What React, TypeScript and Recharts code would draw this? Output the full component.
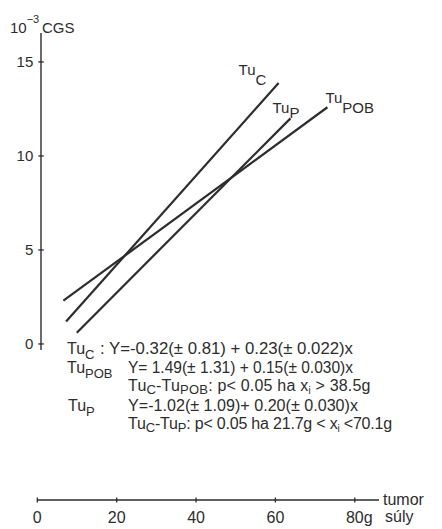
import { LineChart, Line, XAxis, YAxis, ReferenceLine, LabelList } from "recharts"

// regressziós egyenesek végpontjai (tumor súly g, 10^-3 CGS)
const tuC = [
  { x: 7.25, y: 1.19 },
  { x: 60.8, y: 13.88 },
]
const tuP = [
  { x: 9.95, y: 0.6 },
  { x: 63.8, y: 12.0 },
]
const tuPOB = [
  { x: 6.57, y: 2.3 },
  { x: 73.1, y: 12.59 },
]

const xTicks = [0, 20, 40, 60, 80]
const yTicks = [0, 5, 10, 15]

// szöveges blokk a grafikon alatt: [szöveg, alsó index?]
type Seg = [string, boolean?]
const eqNames: Seg[][] = [
  [["Tu"], ["C", true]],
  [["Tu"], ["POB", true]],
  [],
  [["Tu"], ["P", true]],
  [],
]
const eqTexts: Seg[][] = [
  [[": Y=-0.32(± 0.81) + 0.23(± 0.022)x"]],
  [["Y=  1.49(± 1.31) + 0.15(± 0.030)x"]],
  [["Tu"], ["C", true], ["-Tu"], ["POB", true], [": p< 0.05 ha  x"], ["i", true], [" > 38.5g"]],
  [["Y=-1.02(± 1.09)+ 0.20(± 0.030)x"]],
  [["Tu"], ["C", true], ["-Tu"], ["P", true], [": p< 0.05 ha  21.7g < x"], ["i", true], [" <70.1g"]],
]

const ink = "#2d2d2d"
const font = "'Liberation Sans', Arial, sans-serif"

const eqLayout = [
  { nameX: 67, x: 100, y: 354, len: 253, ls: 0 },
  { nameX: 67, x: 128, y: 373, len: 225, ls: 0 },
  { nameX: 67, x: 128, y: 391, len: 0, ls: 0.2 },
  { nameX: 68, x: 128, y: 411, len: 230, ls: 0 },
  { nameX: 67, x: 128, y: 429, len: 0, ls: -0.2 },
]

const renderSegs = (segs: Seg[], subShift: number) => {
  let down = false
  return segs.map(([t, sub], i) => {
    let dy = 0
    if (sub && !down) { dy = subShift; down = true }
    else if (!sub && down) { dy = -subShift; down = false }
    return (
      <tspan key={i} dy={dy} fontSize={sub ? (t === "i" ? 10 : 13) : undefined}>{t}</tspan>
    )
  })
}

const YTick = (props: any) => {
  const { x, y, payload } = props
  return (
    <g>
      <text x={x} y={y} dy={5.5} textAnchor="end" fontSize={15} fontFamily={font} fill={ink}>
        {payload.value}
      </text>
      <line x1={x + 5} x2={x + 10.5} y1={y} y2={y} stroke={ink} strokeWidth={1.3} />
    </g>
  )
}

const XTick = (props: any) => {
  const { x, y, payload } = props
  return (
    <g>
      <line x1={x} x2={x} y1={y - 2.5} y2={y + 2.5} stroke={ink} strokeWidth={1.3} />
      <text x={x} y={y} dy={23} textAnchor="middle" fontSize={16} fontFamily={font} fill={ink}>
        {payload.value}
      </text>
      {payload.value === 80 && (
        <text x={x + 9} y={y} dy={23} fontSize={16} fontFamily={font} fill={ink}>g</text>
      )}
    </g>
  )
}

const seriesLabel = (main: string, sub: string, dx: number, dy: number, subDy: number) => (p: any) => {
  if (p.index !== 1) return null
  return (
    <text x={p.x + dx} y={p.y + dy} fontSize={15} fontFamily={font} fill={ink}>
      <tspan>{main}</tspan>
      <tspan dy={subDy}>{sub}</tspan>
    </text>
  )
}

export default function App() {
  return (
    <div style={{ position: "absolute", left: 0, top: 0, width: 442, height: 529, background: "#fff" }}>
      <LineChart width={442} height={529} margin={{ top: 33, right: 63, bottom: 0, left: 7.3 }}>
        <XAxis
          dataKey="x"
          type="number"
          domain={[0, 86.1]}
          allowDataOverflow
          ticks={xTicks}
          interval={0}
          height={29}
          tickSize={0}
          tickMargin={0}
          tickLine={false}
          axisLine={{ stroke: ink, strokeWidth: 1.3 }}
          tick={(p: any) => <XTick {...p} />}
        />
        <YAxis
          type="number"
          domain={[-8.3, 16.54]}
          allowDataOverflow
          ticks={yTicks}
          interval={0}
          width={30}
          tickSize={0}
          tickMargin={4}
          tickLine={false}
          axisLine={false}
          tick={(p: any) => <YTick {...p} />}
        />
        <ReferenceLine
          segment={[{ x: 0.93, y: -0.32 }, { x: 0.93, y: 16.54 }]}
          stroke={ink}
          strokeWidth={1.4}
          ifOverflow="visible"
        />
        <Line data={tuC} dataKey="y" stroke={ink} strokeWidth={2.2} dot={false} isAnimationActive={false}>
          <LabelList dataKey="y" content={seriesLabel("Tu", "C", -40, -8, 10)} />
        </Line>
        <Line data={tuP} dataKey="y" stroke={ink} strokeWidth={2.2} dot={false} isAnimationActive={false}>
          <LabelList dataKey="y" content={seriesLabel("Tu", "P", -18, -5, 5)} />
        </Line>
        <Line data={tuPOB} dataKey="y" stroke={ink} strokeWidth={2.2} dot={false} isAnimationActive={false}>
          <LabelList dataKey="y" content={seriesLabel("Tu", "POB", -2, -4, 10)} />
        </Line>

        {/* tengelyfeliratok */}
        <text x={10} y={33} fontFamily={font} fill={ink} fontSize={15}>
          10<tspan dy={-10} fontSize={11}>−3</tspan>
        </text>
        <text x={42} y={33} fontFamily={font} fill={ink} fontSize={15}>CGS</text>
        <text x={383} y={505} fontFamily={font} fill={ink} fontSize={16}>tumor</text>
        <text x={385} y={522} fontFamily={font} fill={ink} fontSize={16}>súly</text>

        {/* egyenletek */}
        {eqLayout.map((l, i) => (
          <g key={i}>
            {eqNames[i].length > 0 && (
              <text x={l.nameX} y={l.y} fontSize={16} fontFamily={font} fill={ink}>
                {renderSegs(eqNames[i], 5)}
              </text>
            )}
            <text
              x={l.x}
              y={l.y}
              fontSize={16}
              fontFamily={font}
              fill={ink}
              letterSpacing={l.ls || undefined}
              textLength={l.len || undefined}
              lengthAdjust={l.len ? "spacingAndGlyphs" : undefined}
            >
              {renderSegs(eqTexts[i], 3)}
            </text>
          </g>
        ))}
      </LineChart>
    </div>
  )
}
